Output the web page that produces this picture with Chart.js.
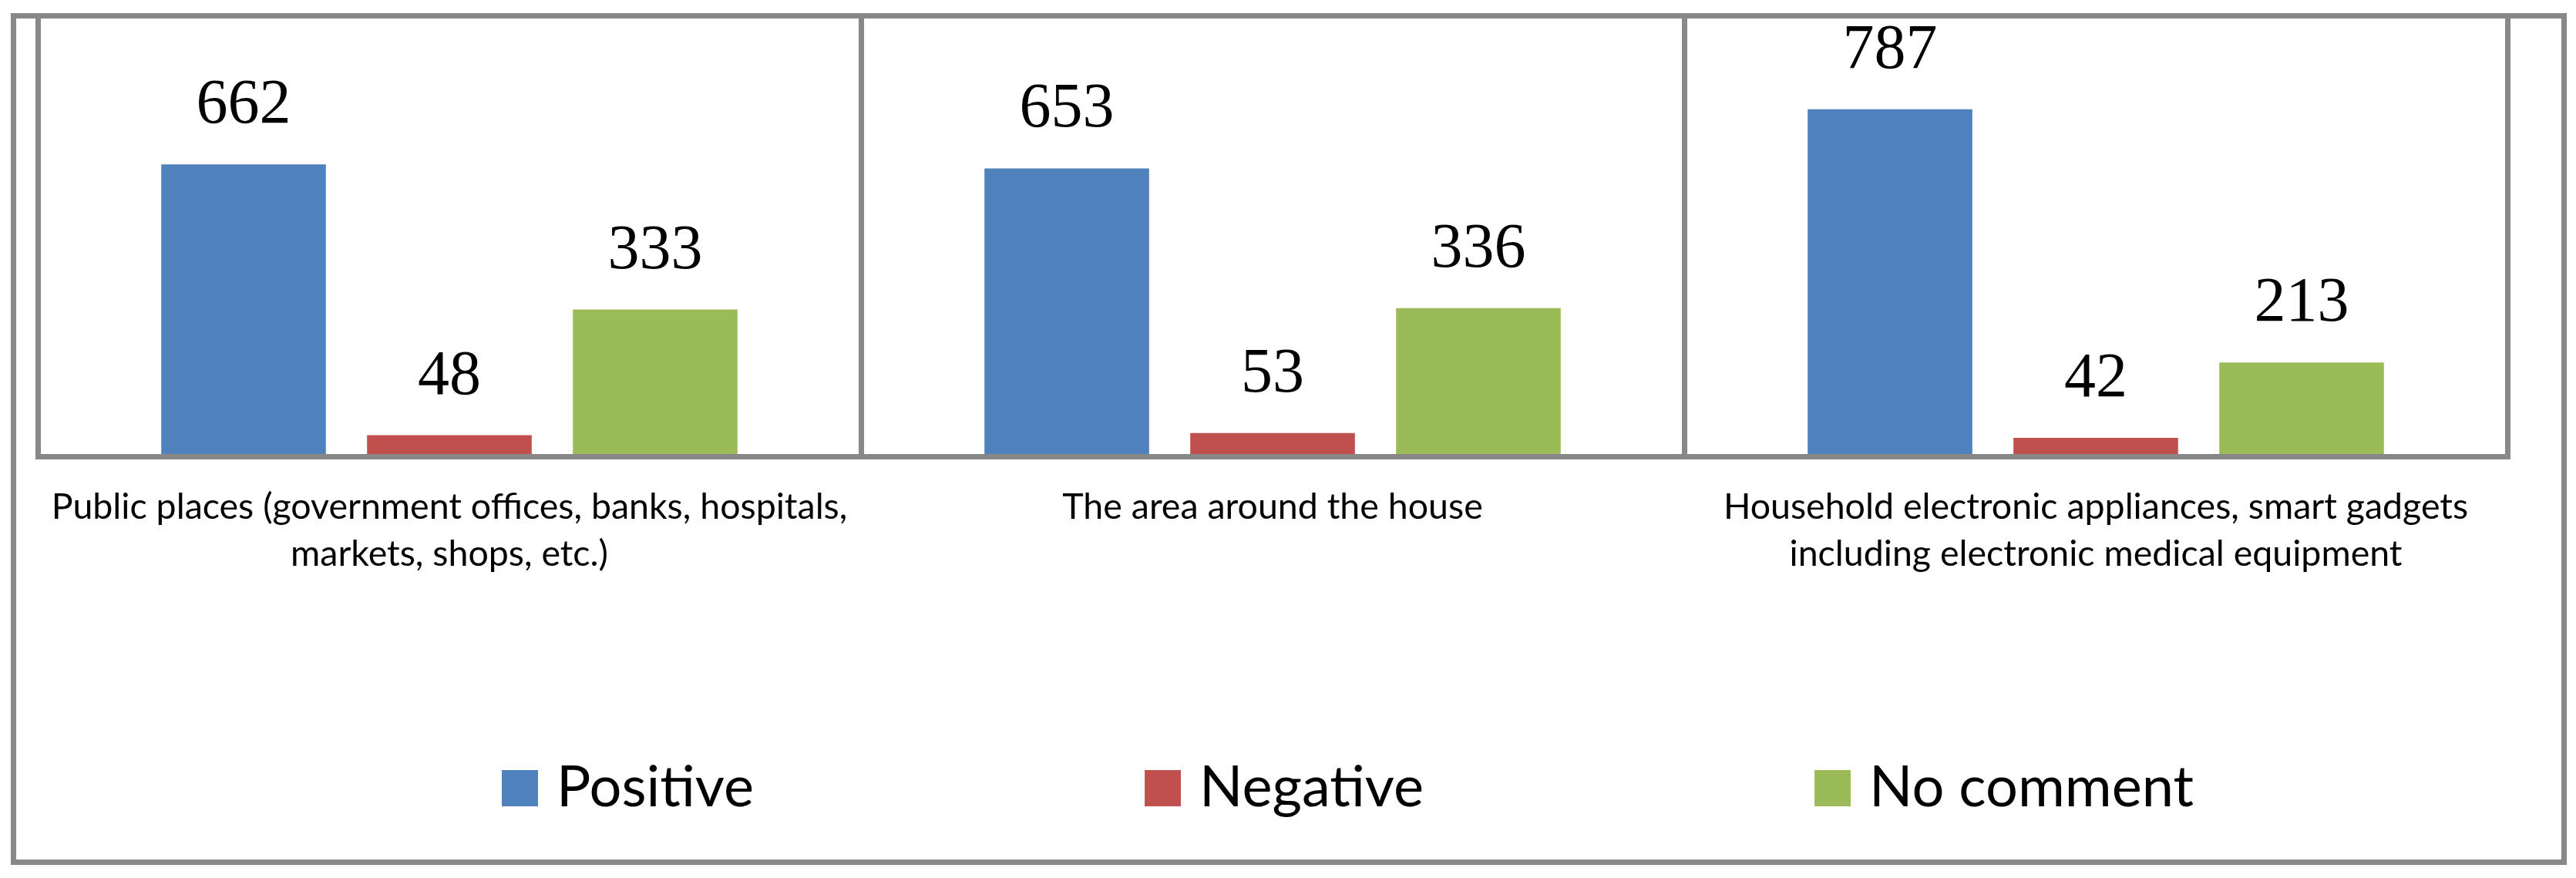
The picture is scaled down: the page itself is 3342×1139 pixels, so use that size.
<!DOCTYPE html>
<html lang="en">
<head>
<meta charset="UTF-8">
<title>Attitude by place</title>
<style>
  body { margin: 0; background: #fff; overflow: hidden; }
  #wrap { position: relative; width: 3342px; height: 1139px; overflow: hidden; }
  #myChart { position: absolute; left: -20px; top: 0; }
  #frame { position: absolute; left: 14px; top: 17px; width: 3316px; height: 1105px;
           box-sizing: border-box; border: 7px solid #888; pointer-events: none; }
</style>
</head>
<body>
<div id="wrap">
  <canvas id="myChart" width="3362" height="1139"></canvas>
  <div id="frame"></div>
</div>

<script src="https://cdn.jsdelivr.net/npm/chart.js@4.4.1/dist/chart.umd.min.js"></script>
<script>
  const categories = [
    ['Public places (government offices, banks, hospitals,', 'markets, shops, etc.)'],
    'The area around the house',
    ['Household electronic appliances, smart gadgets', 'including electronic medical equipment']
  ];
  const positive = [662, 653, 787];
  const negative = [48, 53, 42];
  const noComment = [333, 336, 213];
  const seriesNames = ['Positive', 'Negative', 'No comment'];
  const colors = ['#4F81BD', '#C0504D', '#9BBB59'];

  const gray = '#888';
  const boxW = 298;   // legend slot before the text

  // legend swatch: square sitting at the right end of a wider transparent strip
  const legendBoxes = colors.map(c => {
    const cv = document.createElement('canvas');
    cv.width = boxW + 26;
    cv.height = 47;
    const g = cv.getContext('2d');
    g.fillStyle = c;
    g.fillRect(cv.width - 47, 0, 47, 47);
    return cv;
  });

  // numbers above the bars
  const valueLabels = {
    id: 'valueLabels',
    afterDatasetsDraw(chart) {
      const ctx = chart.ctx;
      ctx.save();
      ctx.font = '82px "Liberation Serif"';
      ctx.fillStyle = '#000';
      ctx.textAlign = 'center';
      ctx.textBaseline = 'alphabetic';
      chart.data.datasets.forEach((ds, i) => {
        chart.getDatasetMeta(i).data.forEach((bar, j) => {
          ctx.fillText(ds.data[j], bar.x, bar.y - 54);
        });
      });
      ctx.restore();
    }
  };

  const ctx = document.getElementById('myChart');
  new Chart(ctx, {
    type: 'bar',
    data: {
      labels: categories,
      datasets: [
        { label: seriesNames[0], data: positive, backgroundColor: colors[0] },
        { label: seriesNames[1], data: negative, backgroundColor: colors[1] },
        { label: seriesNames[2], data: noComment, backgroundColor: colors[2] }
      ]
    },
    options: {
      responsive: false,
      devicePixelRatio: 1,
      animation: false,
      categoryPercentage: 0.75,
      barPercentage: 0.8,
      layout: { padding: { left: 0, right: 89, top: 20, bottom: 70 } },
      scales: {
        x: {
          grid: { display: true, offset: true, color: gray, lineWidth: 7, drawTicks: false },
          border: { display: true, color: gray, width: 7, z: 1 },
          ticks: {
            padding: 36,
            color: '#000',
            maxRotation: 0,
            autoSkip: false,
            font: { family: 'Lato', size: 46.5, lineHeight: 1.31 }
          },
          afterFit(scale) { scale.height = 150; }
        },
        y: {
          min: 0,
          max: 1000,
          grid: { display: false, drawTicks: false },
          border: { display: true, color: gray, width: 7 },
          ticks: { display: false },
          afterFit(scale) { scale.width = 69; }
        }
      },
      plugins: {
        tooltip: { enabled: false },
        legend: {
          position: 'bottom',
          labels: {
            usePointStyle: true,
            pointStyleWidth: boxW,
            padding: 243,
            color: '#000',
            font: { family: 'Lato', size: 74 },
            generateLabels: (chart) =>
              Chart.defaults.plugins.legend.labels.generateLabels(chart)
                .map((item, i) => ({ ...item, pointStyle: legendBoxes[i] }))
          }
        }
      }
    },
    plugins: [valueLabels]
  });
</script>
</body>
</html>
